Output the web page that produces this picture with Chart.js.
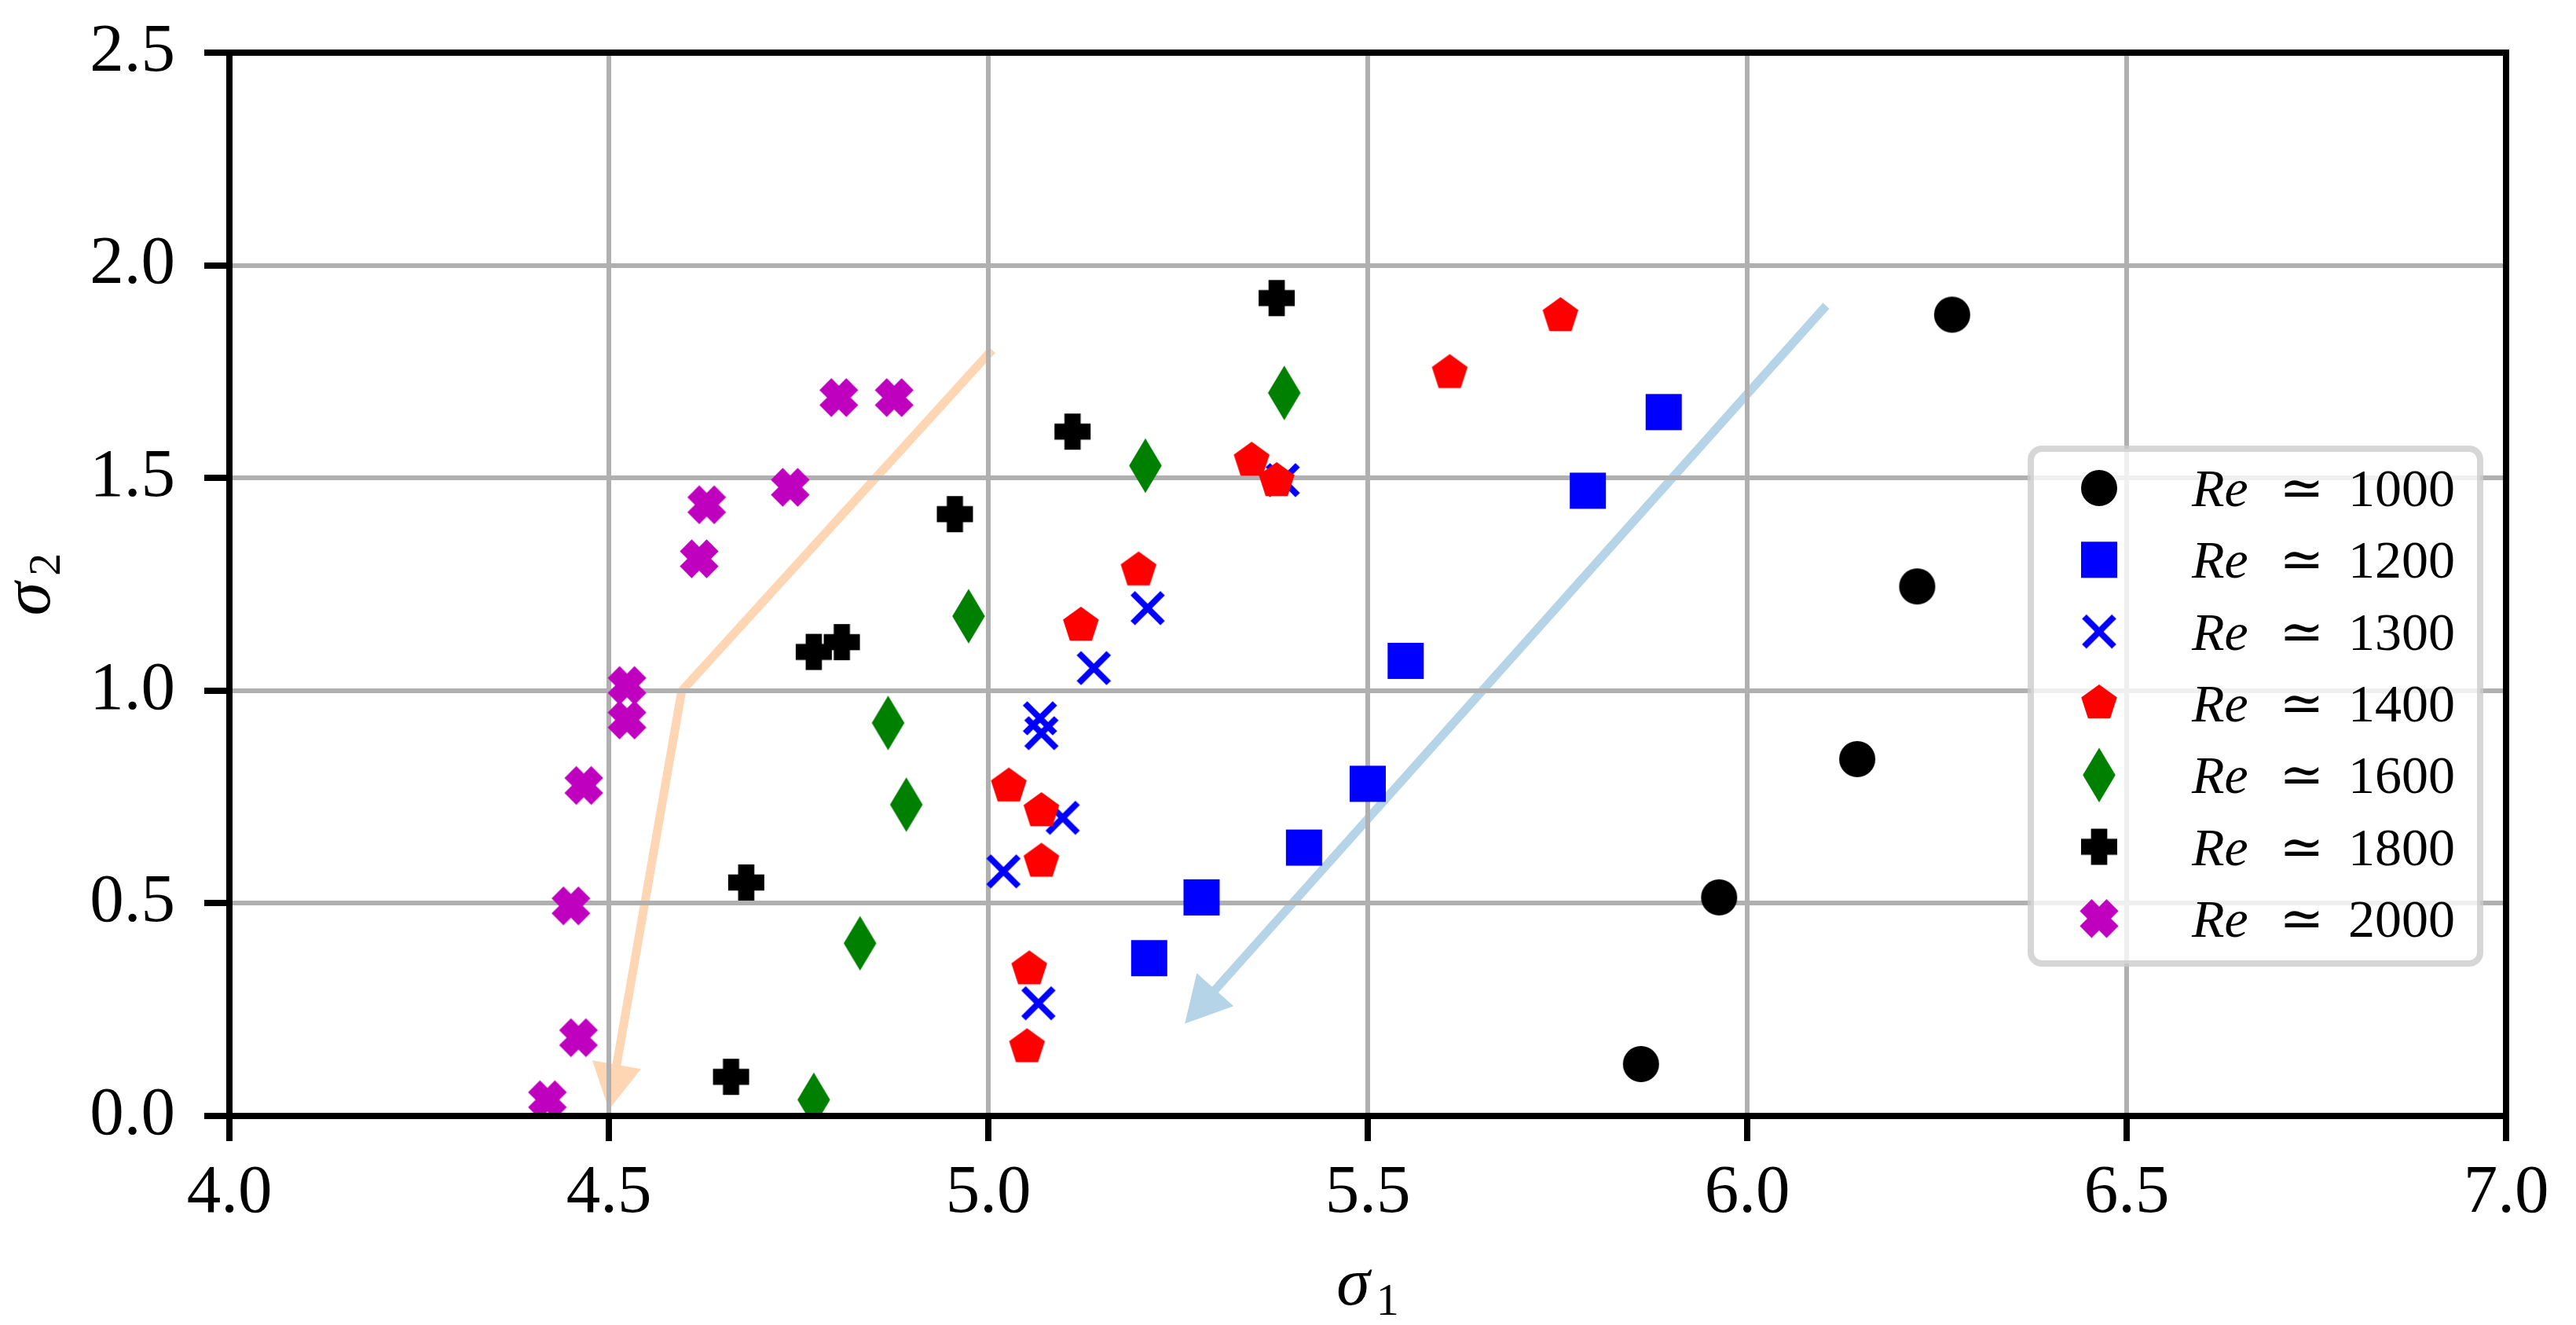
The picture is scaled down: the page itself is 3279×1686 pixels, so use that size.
<!DOCTYPE html>
<html>
<head>
<meta charset="utf-8">
<title>sigma1 vs sigma2</title>
<script src="https://cdn.jsdelivr.net/npm/chart.js@4.4.1/dist/chart.umd.min.js"></script>
<style>
    html, body { margin: 0; padding: 0; background: #fff; }
    #chart { display: block; }
</style>
</head>
<body>
<canvas id="chart" width="3279" height="1686"></canvas>
<script>
// Re values shown in the legend
const RE_LABELS = ['1000', '1200', '1300', '1400', '1600', '1800', '2000'];

// (sigma1, sigma2) pairs per Reynolds number
const RE1000_X = [5.860, 5.963, 6.145, 6.224, 6.270];
const RE1000_Y = [0.122, 0.514, 0.839, 1.245, 1.884];

const RE1200_X = [5.212, 5.281, 5.416, 5.500, 5.550, 5.790, 5.890];
const RE1200_Y = [0.371, 0.514, 0.631, 0.781, 1.070, 1.470, 1.655];

const RE1300_X = [5.066, 5.020, 5.098, 5.070, 5.068, 5.139, 5.210, 5.388];
const RE1300_Y = [0.265, 0.575, 0.701, 0.900, 0.935, 1.053, 1.194, 1.495];

const RE1400_X = [5.051, 5.054, 5.070, 5.070, 5.027, 5.122, 5.198, 5.380, 5.347, 5.608, 5.754];
const RE1400_Y = [0.162, 0.345, 0.598, 0.717, 0.775, 1.153, 1.283, 1.493, 1.541, 1.747, 1.881];

const RE1600_X = [4.770, 4.831, 4.892, 4.868, 4.974, 5.207, 5.390];
const RE1600_Y = [0.038, 0.406, 0.732, 0.924, 1.175, 1.529, 1.700];

const RE1800_X = [4.661, 4.681, 4.770, 4.807, 4.956, 5.111, 5.380];
const RE1800_Y = [0.092, 0.549, 1.091, 1.114, 1.415, 1.609, 1.923];

const RE2000_X = [4.419, 4.460, 4.450, 4.467, 4.524, 4.524, 4.619, 4.629, 4.739, 4.803, 4.876];
const RE2000_Y = [0.038, 0.184, 0.494, 0.777, 0.931, 1.012, 1.310, 1.437, 1.478, 1.689, 1.689];

// trend arrows (polyline vertices, last one is the tip)
const ARROW_ORANGE_X = [5.005, 4.596, 4.500];
const ARROW_ORANGE_Y = [1.801, 0.999, 0.015];
const ARROW_BLUE_X = [6.104, 5.259];
const ARROW_BLUE_Y = [1.905, 0.217];

// axis ticks
const X_TICKS = [4.0, 4.5, 5.0, 5.5, 6.0, 6.5, 7.0];
const Y_TICKS = [0.0, 0.5, 1.0, 1.5, 2.0, 2.5];

const SERIF = "'Liberation Serif', 'DejaVu Serif', serif";
const MARKER_SIZE = 38;
const MARKER_EDGE = 8;

/**
 * Build a marker sprite from a matplotlib-style unit path
 */
function pathMarker(points, color, closed) {
    const s = MARKER_SIZE, e = MARKER_EDGE;
    let ext = 0;
    points.forEach(p => { ext = Math.max(ext, Math.abs(p[0]), Math.abs(p[1])); });
    const dim = Math.ceil(ext * s * 2 + e * 4);
    const c = document.createElement('canvas');
    c.width = dim;
    c.height = dim;
    const g = c.getContext('2d');
    g.translate(dim / 2, dim / 2);
    g.beginPath();
    points.forEach((p, i) => {
        const x = p[0] * s, y = -p[1] * s;
        if (i === 0) g.moveTo(x, y); else g.lineTo(x, y);
    });
    g.strokeStyle = color;
    g.fillStyle = color;
    g.lineWidth = e;
    g.lineJoin = 'miter';
    g.miterLimit = 10;
    if (closed) {
        g.closePath();
        g.fill();
    }
    g.stroke();
    return c;
}

function circleMarker(color) {
    const s = MARKER_SIZE, e = MARKER_EDGE;
    const dim = s + e * 3;
    const c = document.createElement('canvas');
    c.width = dim;
    c.height = dim;
    const g = c.getContext('2d');
    g.beginPath();
    g.arc(dim / 2, dim / 2, s / 2, 0, Math.PI * 2);
    g.fillStyle = color;
    g.strokeStyle = color;
    g.lineWidth = e;
    g.fill();
    g.stroke();
    return c;
}

function crossMarker(color) {
    const s = MARKER_SIZE, e = MARKER_EDGE;
    const dim = s + e * 3;
    const c = document.createElement('canvas');
    c.width = dim;
    c.height = dim;
    const g = c.getContext('2d');
    g.translate(dim / 2, dim / 2);
    g.strokeStyle = color;
    g.lineWidth = e;
    g.lineCap = 'butt';
    g.beginPath();
    g.moveTo(-s / 2, -s / 2); g.lineTo(s / 2, s / 2);
    g.moveTo(-s / 2, s / 2); g.lineTo(s / 2, -s / 2);
    g.stroke();
    return c;
}

function polygonPoints(n) {
    const pts = [];
    for (let k = 0; k < n; k++) {
        const a = Math.PI / 2 + k * 2 * Math.PI / n;
        pts.push([0.5 * Math.cos(a), 0.5 * Math.sin(a)]);
    }
    return pts;
}

const SQUARE_PTS = [[-0.5, -0.5], [0.5, -0.5], [0.5, 0.5], [-0.5, 0.5]];
const THIN_DIAMOND_PTS = [[0, 0.7071], [0.4243, 0], [0, -0.7071], [-0.4243, 0]];
const PLUS_FILLED_PTS = [[-1, -3], [1, -3], [1, -1], [3, -1], [3, 1], [1, 1],
    [1, 3], [-1, 3], [-1, 1], [-3, 1], [-3, -1], [-1, -1]].map(p => [p[0] / 6, p[1] / 6]);
const X_FILLED_PTS = [[-1, -2], [0, -1], [1, -2], [2, -1], [1, 0], [2, 1],
    [1, 2], [0, 1], [-1, 2], [-2, 1], [-1, 0], [-2, -1]].map(p => [p[0] / 4, p[1] / 4]);

function toPoints(xs, ys) {
    return xs.map((x, i) => ({ x: x, y: ys[i] }));
}

/**
 * Arrows sit under the grid, like matplotlib patches
 */
function drawArrow(chart, xs, ys, color) {
    const ctx = chart.ctx;
    const sx = chart.scales.x, sy = chart.scales.y;
    const px = xs.map(v => sx.getPixelForValue(v));
    const py = ys.map(v => sy.getPixelForValue(v));
    const n = px.length;
    const headLen = 58, headW = 63, shaftW = 11;
    let dx = px[n - 1] - px[n - 2], dy = py[n - 1] - py[n - 2];
    const len = Math.hypot(dx, dy);
    dx /= len; dy /= len;
    const bx = px[n - 1] - dx * headLen, by = py[n - 1] - dy * headLen;

    ctx.save();
    ctx.strokeStyle = color;
    ctx.fillStyle = color;
    ctx.lineWidth = shaftW;
    ctx.lineJoin = 'miter';
    ctx.lineCap = 'butt';
    ctx.beginPath();
    ctx.moveTo(px[0], py[0]);
    for (let i = 1; i < n - 1; i++) ctx.lineTo(px[i], py[i]);
    ctx.lineTo(bx + dx * 2, by + dy * 2);
    ctx.stroke();

    ctx.beginPath();
    ctx.moveTo(px[n - 1], py[n - 1]);
    ctx.lineTo(bx - dy * headW / 2, by + dx * headW / 2);
    ctx.lineTo(bx + dy * headW / 2, by - dx * headW / 2);
    ctx.closePath();
    ctx.fill();
    ctx.restore();
}

// sigma with a subscript index, centred on cx at baseline baseY
function drawSigma(ctx, sub, cx, baseY, vertical) {
    ctx.save();
    ctx.fillStyle = '#000';
    ctx.textBaseline = 'alphabetic';
    ctx.textAlign = 'left';
    ctx.translate(cx, baseY);
    if (vertical) ctx.rotate(-Math.PI / 2);
    ctx.font = 'italic 86px ' + SERIF;
    const wS = ctx.measureText('σ').width;
    ctx.font = '58px ' + SERIF;
    const wSub = ctx.measureText(sub).width;
    const gap = 8;
    const start = -(wS + gap + wSub) / 2;
    ctx.font = 'italic 86px ' + SERIF;
    ctx.fillText('σ', start, 0);
    ctx.font = '58px ' + SERIF;
    ctx.fillText(sub, start + wS + gap, 13);
    ctx.restore();
}

const chartDecor = {
    id: 'chartDecor',
    beforeDraw(chart) {
        drawArrow(chart, ARROW_ORANGE_X, ARROW_ORANGE_Y, '#ffd6b4');
        drawArrow(chart, ARROW_BLUE_X, ARROW_BLUE_Y, '#b6d4e8');
    },
    afterDatasetsDraw(chart) {
        const ctx = chart.ctx;
        const a = chart.chartArea;
        ctx.save();
        ctx.strokeStyle = '#000';
        ctx.lineWidth = 8;
        ctx.lineJoin = 'miter';
        ctx.strokeRect(a.left, a.top, a.right - a.left, a.bottom - a.top);
        ctx.restore();
    },
    afterDraw(chart) {
        const ctx = chart.ctx;
        const a = chart.chartArea;

        // axis titles
        drawSigma(ctx, '1', (a.left + a.right) / 2, 1660, false);
        drawSigma(ctx, '2', 63, (a.top + a.bottom) / 2, true);

        // legend box
        const left = a.right - 605, top = a.top + 504;
        const w = 572, h = 655, r = 14;
        ctx.save();
        ctx.beginPath();
        ctx.moveTo(left + r, top);
        ctx.arcTo(left + w, top, left + w, top + h, r);
        ctx.arcTo(left + w, top + h, left, top + h, r);
        ctx.arcTo(left, top + h, left, top, r);
        ctx.arcTo(left, top, left + w, top, r);
        ctx.closePath();
        ctx.fillStyle = 'rgba(255,255,255,0.8)';
        ctx.fill();
        ctx.strokeStyle = 'rgba(204,204,204,0.8)';
        ctx.lineWidth = 8;
        ctx.stroke();

        chart.data.datasets.forEach((ds, i) => {
            const y = top + 50 + i * 91.3;
            const img = ds.pointStyle;
            ctx.drawImage(img, left + 87 - img.width / 2, y - img.height / 2);
            ctx.fillStyle = '#000';
            ctx.textBaseline = 'alphabetic';
            ctx.textAlign = 'left';
            ctx.font = 'italic 68px ' + SERIF;
            ctx.fillText('Re', left + 205, y + 23);
            ctx.font = '68px ' + SERIF;
            ctx.textAlign = 'center';
            ctx.fillText('≃', left + 345, y + 23);
            ctx.fillText(RE_LABELS[i], left + 472, y + 23);
        });
        ctx.restore();
    }
};

function init() {
    const SERIES = [
        { x: RE1000_X, y: RE1000_Y, marker: circleMarker('#000000') },
        { x: RE1200_X, y: RE1200_Y, marker: pathMarker(SQUARE_PTS, '#0000ff', true) },
        { x: RE1300_X, y: RE1300_Y, marker: crossMarker('#0000ff') },
        { x: RE1400_X, y: RE1400_Y, marker: pathMarker(polygonPoints(5), '#ff0000', true) },
        { x: RE1600_X, y: RE1600_Y, marker: pathMarker(THIN_DIAMOND_PTS, '#008000', true) },
        { x: RE1800_X, y: RE1800_Y, marker: pathMarker(PLUS_FILLED_PTS, '#000000', true) },
        { x: RE2000_X, y: RE2000_Y, marker: pathMarker(X_FILLED_PTS, '#bf00bf', true) }
    ];

    const datasets = SERIES.map((s, i) => ({
        label: 'Re ≃ ' + RE_LABELS[i],
        data: toPoints(s.x, s.y),
        pointStyle: s.marker,
        pointRadius: 24,
        pointHoverRadius: 24,
        showLine: false,
        clip: 0,
        order: SERIES.length - i
    }));

    const tickFont = { family: SERIF, size: 87 };

    new Chart(document.getElementById('chart'), {
        type: 'scatter',
        data: { datasets: datasets },
        plugins: [chartDecor],
        options: {
            responsive: false,
            animation: false,
            devicePixelRatio: 1,
            layout: { padding: { top: 67, right: 89, bottom: 0, left: 0 } },
            plugins: {
                legend: { display: false },
                tooltip: { enabled: false }
            },
            scales: {
                x: {
                    type: 'linear',
                    min: X_TICKS[0],
                    max: X_TICKS[X_TICKS.length - 1],
                    afterBuildTicks: scale => { scale.ticks = X_TICKS.map(v => ({ value: v })); },
                    ticks: {
                        callback: v => Number(v).toFixed(1),
                        font: tickFont,
                        color: '#000',
                        padding: 15,
                        maxRotation: 0,
                        autoSkip: false
                    },
                    grid: { color: '#b0b0b0', lineWidth: 6, tickColor: '#000', tickWidth: 8, tickLength: 32 },
                    border: { color: '#000', width: 8 },
                    afterFit: scale => {
                        scale.height = 266;
                        scale.paddingLeft = 0;
                        scale.paddingRight = 0;
                    }
                },
                y: {
                    type: 'linear',
                    min: Y_TICKS[0],
                    max: Y_TICKS[Y_TICKS.length - 1],
                    afterBuildTicks: scale => { scale.ticks = Y_TICKS.map(v => ({ value: v })); },
                    ticks: {
                        callback: v => Number(v).toFixed(1),
                        font: tickFont,
                        color: '#000',
                        padding: 37,
                        autoSkip: false
                    },
                    grid: { color: '#b0b0b0', lineWidth: 6, tickColor: '#000', tickWidth: 8, tickLength: 32 },
                    border: { color: '#000', width: 8 },
                    afterFit: scale => {
                        scale.width = 292;
                        scale.paddingTop = 0;
                        scale.paddingBottom = 0;
                    }
                }
            }
        }
    });
}

if (document.fonts && document.fonts.load) {
    Promise.all([
        document.fonts.load("86px 'Liberation Serif'"),
        document.fonts.load("italic 86px 'Liberation Serif'")
    ]).then(init, init);
} else {
    init();
}
</script>
</body>
</html>
